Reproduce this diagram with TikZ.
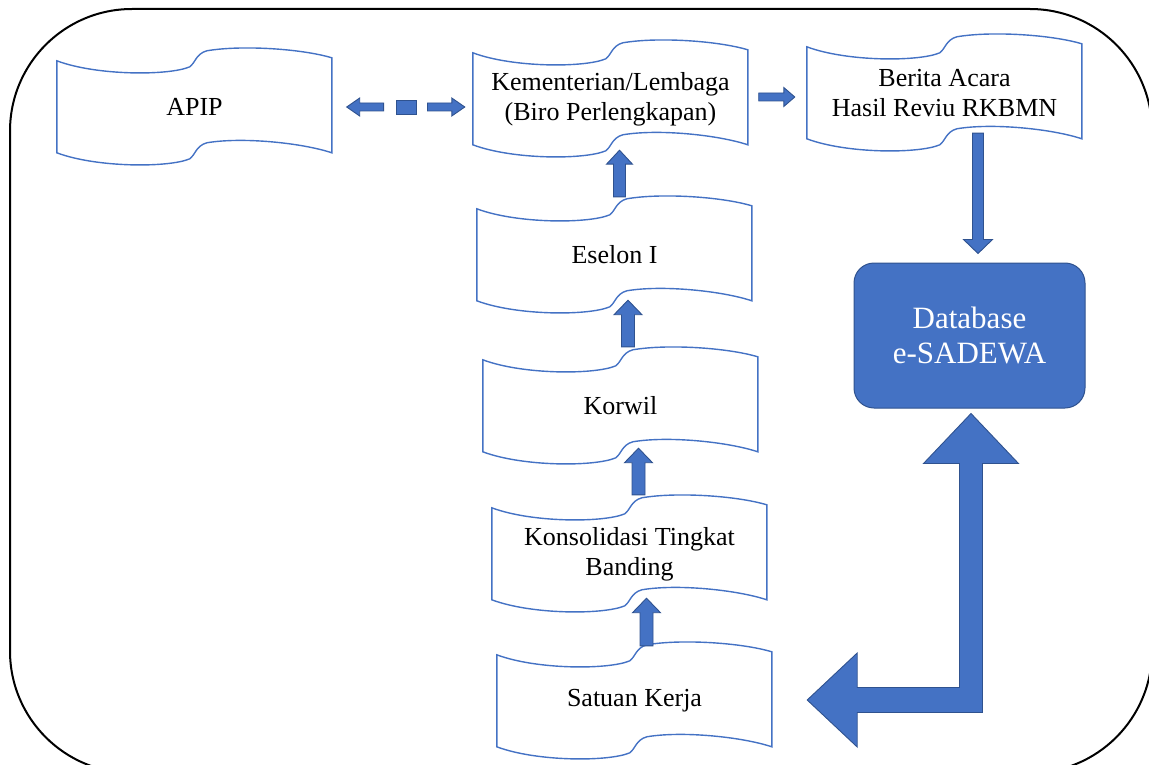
\documentclass[tikz,border=0pt]{standalone}
\usepackage{fontspec}
\setmainfont{Liberation Serif}
\usetikzlibrary{calc}
\definecolor{boxblue}{HTML}{4472C4}
\definecolor{edgeblue}{HTML}{2F528F}
\tikzset{
  wavebox/.style={minimum width=275pt, minimum height=92pt, inner sep=0pt, align=center,
    font=\fontsize{26pt}{30pt}\selectfont},
  waveedge/.style={draw=boxblue, line width=1.4pt},
  blockarrow/.style n args={3}{draw=edgeblue, fill=boxblue, line width=0.9pt,
    to path={let \p1=(\tikztostart), \p2=(\tikztotarget),
      \n1={atan2(\y2-\y1,\x2-\x1)}, \n2={veclen(\x2-\x1,\y2-\y1)} in
      ($(\p1)+(\n1+90:#1)$) -- ($(\p1)+(\n1:\n2-#3)+(\n1+90:#1)$)
      -- ($(\p1)+(\n1:\n2-#3)+(\n1+90:#2)$) -- (\p2)
      -- ($(\p1)+(\n1:\n2-#3)+(\n1-90:#2)$) -- ($(\p1)+(\n1:\n2-#3)+(\n1-90:#1)$)
      -- ($(\p1)+(\n1-90:#1)$) -- cycle}}
}
% wavy outline round a box
\newcommand{\waveoutline}[1]{%
  \draw[waveedge, shift={(#1.north west)}] (0,0) .. controls (40,15) and (112,15) .. (133,6)
    .. controls (138,3) and (139,-7) .. (150,-10) .. controls (185,-16) and (245,-12) .. (275,-3)
    -- (275,92) .. controls (245,82) and (185,76) .. (150,82)
    .. controls (139,85) and (138,95) .. (133,98) .. controls (112,107) and (40,107) .. (0,92) -- cycle;}

\begin{document}
\begin{tikzpicture}[x=1pt,y=-1pt]
    \useasboundingbox (0,0) rectangle (1149,765);
    \clip (0,0) rectangle (1149,765);
    \draw [line width=2pt, rounded corners=122pt] (10,9) rectangle (1152,773);

    \node[wavebox] (apip) at (194.5,107) {APIP};
    \node[wavebox] (kl) at (610.5,99) {Kementerian/Lembaga\\(Biro Perlengkapan)};
    \node[wavebox] (ba) at (944.5,93) {Berita Acara\\Hasil Reviu RKBMN};
    \node[wavebox] (eselon) at (614.5,255) {Eselon I};
    \node[wavebox] (korwil) at (620.5,406) {Korwil};
    \node[wavebox] (banding) at (629.5,554) {Konsolidasi Tingkat\\Banding};
    \node[wavebox] (satker) at (634.5,701) {Satuan Kerja};
    \foreach \n in {apip,kl,ba,eselon,korwil,banding,satker} {\waveoutline{\n}}

    \node[rounded corners=20pt, draw=edgeblue, fill=boxblue, line width=1pt,
      minimum width=231pt, minimum height=145pt, text=white, align=center,
      font=\fontsize{31pt}{35pt}\selectfont] (db) at (969.5,335.5) {Database\\e-SADEWA};

    % upward chain
    \draw[blockarrow={6.5pt}{14pt}{14.5pt}] ($(satker.north)+(12,-9)$) to ($(banding.south)+(17,-2)$);
    \draw[blockarrow={6.5pt}{14pt}{14.5pt}] ($(banding.north)+(9,-13)$) to ($(korwil.south)+(18,-4)$);
    \draw[blockarrow={6.5pt}{14pt}{14.5pt}] ($(korwil.north)+(7.5,-13)$) to ($(eselon.south)+(13.5,-1)$);
    \draw[blockarrow={6pt}{13pt}{14pt}] ($(eselon.north)+(5,-12)$) to ($(kl.south)+(9,5)$);

    \draw[blockarrow={4pt}{9.5pt}{11pt}] ($(kl.east)+(10.5,-2)$) to ($(ba.west)+(-12,4)$);
    \draw[blockarrow={5.5pt}{14.5pt}{14pt}] ($(ba.south)+(33.5,-6)$) to ($(db.north)+(8.5,-9)$);

    % dashed two-way link
    \node[draw=edgeblue, fill=boxblue, line width=0.9pt, minimum width=20pt, minimum height=14pt,
      inner sep=0pt] (gapmark) at (406,107) {};
    \draw[blockarrow={4pt}{9pt}{13pt}] ($(gapmark.west)+(-12,0)$) to ($(apip.east)+(14.5,0)$);
    \draw[blockarrow={4pt}{9pt}{13pt}] ($(gapmark.east)+(11,0)$) to ($(kl.west)+(-8,8)$);

    % bent two-way arrow
    \coordinate (uptip) at ($(db.south)+(1.5,5)$);
    \coordinate (lefttip) at ($(satker.east)+(35,-1)$);
    \draw[draw=edgeblue, fill=boxblue, line width=0.9pt] (uptip) -- ++(47.5,50) -- ++(-36,0)
      |- ($(lefttip)+(50,12.5)$) -- ++(0,34.5) -- (lefttip) -- ++(50,-47) -- ++(0,34.5)
      -| ($(uptip)+(-11.5,50)$) -- ++(-36,0) -- cycle;
\end{tikzpicture}
\end{document}
